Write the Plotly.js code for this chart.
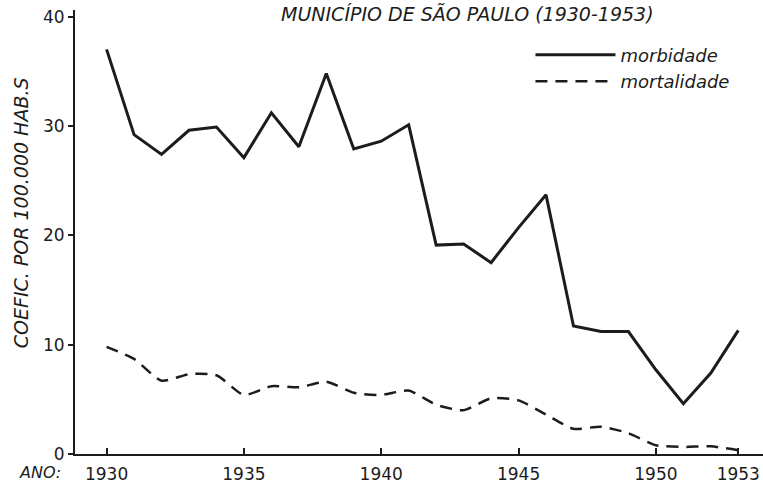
<!DOCTYPE html>
<html>
<head>
<meta charset="utf-8">
<script src="https://cdn.plot.ly/plotly-3.0.1.min.js"></script>
<style>html,body{margin:0;padding:0;background:#fff;}#chart{width:763px;height:484px;}</style>
</head>
<body>
<div id="chart"></div>
<script>
const years = [1930,1931,1932,1933,1934,1935,1936,1937,1938,1939,1940,1941,1942,1943,1944,1945,1946,1947,1948,1949,1950,1951,1952,1953];
const morbidade = [37.0,29.2,27.4,29.6,29.9,27.1,31.2,28.1,34.8,27.9,28.6,30.1,19.1,19.2,17.5,20.7,23.7,11.7,11.2,11.2,7.7,4.6,7.4,11.3];
const mortalidade = [9.8,8.7,6.7,7.3,7.2,5.4,6.2,6.1,6.6,5.6,5.4,5.8,4.5,4.0,5.1,4.9,3.6,2.3,2.5,1.9,0.8,0.65,0.7,0.35];
const xTickVals = [1930,1935,1940,1945,1950,1953];
const yTickVals = [0,10,20,30,40];
const titleText = 'MUNICÍPIO DE SÃO PAULO (1930-1953)';
const yLabel = 'COEFIC. POR 100.000 HAB.S';
const xLabel = 'ANO:';
const seriesNames = ['morbidade','mortalidade'];

const ink = '#1c1c1c';
const traces = [
  {x: years, y: morbidade, name: seriesNames[0], mode: 'lines', type: 'scatter',
   line: {color: ink, width: 3}},
  {x: years, y: mortalidade, name: seriesNames[1], mode: 'lines', type: 'scatter',
   line: {color: ink, width: 2.5, dash: '12px,8px', shape: 'spline', smoothing: 0.6}}
];
const layout = {
  width: 763, height: 484,
  margin: {l: 75, r: 0, t: 10, b: 30},
  paper_bgcolor: '#fff', plot_bgcolor: '#fff',
  font: {family: 'DejaVu Sans', color: ink, size: 16},
  showlegend: true,
  legend: {x: 0.662, y: 0.94, xanchor: 'left', yanchor: 'top', bgcolor: 'rgba(0,0,0,0)',
    font: {family: 'DejaVu Sans', size: 18, style: 'italic'}, itemwidth: 80, tracegroupgap: 0},
  xaxis: {range: [1928.85, 1953.9], tickvals: xTickVals, ticktext: xTickVals.map(String),
    showgrid: false, zeroline: false, showline: true, linecolor: ink, linewidth: 2,
    ticks: 'inside', ticklen: 6, tickwidth: 2, tickcolor: ink, ticklabelstandoff: 4,
    tickfont: {size: 17, family: 'DejaVu Sans'}},
  yaxis: {range: [0, 40.6], tickvals: yTickVals,
    showgrid: false, zeroline: false, showline: true, linecolor: ink, linewidth: 2,
    ticks: 'outside', ticklen: 5, tickwidth: 2, tickcolor: ink,
    tickfont: {size: 17, family: 'DejaVu Sans'}},
  annotations: [
    {text: titleText, xref: 'paper', yref: 'paper', x: 0.57, y: 1.02, xanchor: 'center', yanchor: 'top',
     showarrow: false, font: {size: 19, style: 'italic', family: 'DejaVu Sans'}},
    {text: yLabel, xref: 'paper', yref: 'paper', x: -0.078, y: 0.543, xanchor: 'center', yanchor: 'middle',
     textangle: -90, showarrow: false, font: {size: 19, style: 'italic', family: 'DejaVu Sans'}},
    {text: xLabel, xref: 'paper', yref: 'paper', x: -0.051, y: -0.042, xanchor: 'center', yanchor: 'middle',
     showarrow: false, font: {size: 16, style: 'italic', family: 'DejaVu Sans'}}
  ]
};
Plotly.newPlot('chart', traces, layout, {displayModeBar: false, staticPlot: true});
</script>
</body>
</html>
